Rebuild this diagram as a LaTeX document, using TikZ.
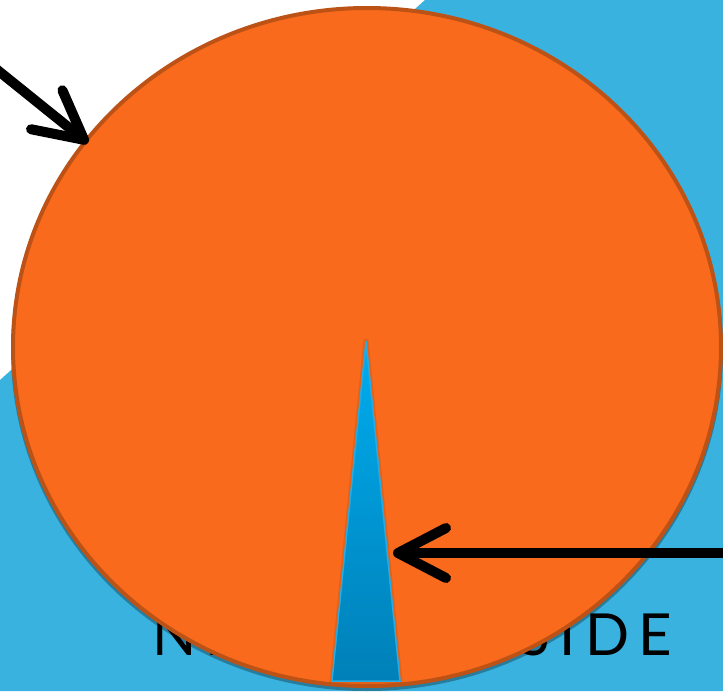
\documentclass[tikz,border=0pt]{standalone}
\usepackage{fontspec}
\setmainfont{Lato}
\usepackage{xcolor}
\usepackage{tikz}
\usetikzlibrary{arrows.meta,calc,positioning}
\definecolor{skyblue}{RGB}{58,178,224}
\definecolor{discorange}{RGB}{249,106,28}
\definecolor{discrim}{RGB}{188,82,22}
\definecolor{needletop}{RGB}{0,172,238}
\definecolor{needlebot}{RGB}{0,128,184}
\definecolor{needleline}{RGB}{40,170,226}

\begin{document}
\begin{tikzpicture}[x=1pt, y=-1pt,
    pointer/.style={line width=10pt, line cap=round, black,
      -{Straight Barb[length=48pt, width=50pt, round]}},
    caption/.style={font=\fontsize{58}{60}\selectfont\addfontfeature{LetterSpace=16},
      anchor=base west, inner sep=0pt, text=black}]
\useasboundingbox (0,0) rectangle (723,691);
\clip (0,0) rectangle (723,691);
% background
\fill[white] (0,0) rectangle (723,691);
\fill[skyblue] (425,0) -- (723,0) -- (723,691) -- (0,691) -- (0,380) -- cycle;
% caption behind the disc
\node[caption] (side) at (152,655) {NEGATIVE SIDE};
% disc with a soft shadow
\fill[black, opacity=0.3] (367,351) ellipse [x radius=356, y radius=340];
\draw[line width=4pt, draw=discrim, fill=discorange] (367,347) ellipse [x radius=354, y radius=339];
% needle
\draw[line width=5pt, discrim, opacity=0.35, line join=round]
  (366,341) -- (400,681) -- (332,681) -- cycle;
\shade[top color=needletop, bottom color=needlebot, draw=needleline, line width=1.5pt]
  (366,341) -- (400,681) -- (332,681) -- cycle;
% pointers
\coordinate (ulstart) at (-20,56);
\coordinate (discedge) at (88,143);
\coordinate (rstart) at (740,553);
\coordinate (needleedge) at (393,553);
\draw[pointer] (ulstart) -- (discedge);
\draw[pointer] (rstart) -- (needleedge);
\end{tikzpicture}
\end{document}
